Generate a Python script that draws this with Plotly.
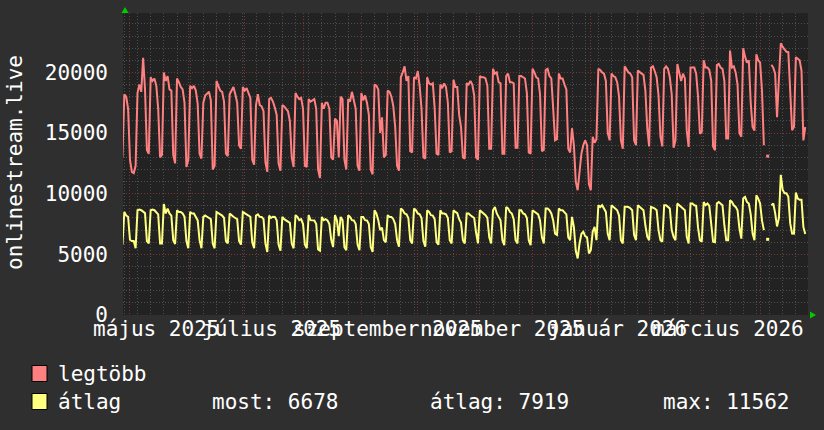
import math
import pandas as pd
import plotly.graph_objects as go

nan = float("nan")

# ---------------- data (daily values) ----------------
START_DATE = "2025-04-27"

legtobb = [
    13000,
    18200, 18000, 17000, 12800, 11800, 11700, 12300,
    18300, 19000, 18400, 21200, 18600, 13600, 13300,
    19600, 19300, 19500, 18900, 17000, 13000, 13200,
    20000, 19300, 19700, 18600, 18500, 13200, 12500,
    19500, 19200, 18800, 18600, 17500, 12200, 12800,
    18900, 18700, 18900, 18500, 17400, 13300, 12900,
    17500, 18100, 18300, 18400, 17700, 12000, 12300,
    19300, 18900, 18500, 18400, 17600, 13300, 13100,
    18200, 18500, 18800, 18200, 17500, 14000, 13700,
    18800, 18500, 18700, 18300, 17900, 12800, 12400,
    17300, 18200, 17300, 17200, 16800, 12600, 11800,
    17800, 17900, 17600, 17100, 16500, 12500, 11900,
    17300, 17200, 17000, 16800, 16000, 13000, 12200,
    18300, 18000, 17800, 17900, 17000, 12300, 12200,
    17800, 17600, 17700, 17800, 17000, 12000, 11300,
    17500, 17000, 17500, 17500, 17000, 13000, 12800,
    16200, 16000, 13000, 18000, 17800, 12800, 12000,
    17800, 17600, 18400, 17700, 17000, 12300, 11900,
    18300, 17700, 18100, 17500, 16500, 12000, 11600,
    19000, 18900, 18600, 15000, 16300, 13000, 13200,
    18500, 18400, 18000, 17200, 15500, 12300, 11900,
    19600, 20000, 20500, 19300, 19700, 13500, 13400,
    19600, 19500, 20100, 18900, 17000, 13000, 12900,
    19600, 19100, 19000, 19100, 17000, 13300, 13200,
    19000, 18700, 19100, 18800, 17500, 13400, 13500,
    19400, 18800, 18800, 16500, 15500, 13000, 12900,
    19100, 19000, 19300, 19000, 18100, 13000, 12800,
    19700, 19600, 19600, 19500, 18900, 13700, 13700,
    20300, 19900, 20000, 19200, 19100, 13300, 13300,
    19700, 19900, 19200, 19200, 19100, 13800, 13800,
    19700, 19700, 19600, 19500, 18300, 13400, 13300,
    20300, 20000, 19600, 19500, 18200, 13500, 13600,
    20200, 20300, 19700, 19500, 17000, 14400, 14500,
    19900, 19500, 19500, 19000, 18600, 13700, 13400,
    15400, 14000, 11000, 10290, 11800, 13300, 14000,
    14400, 14000, 10800, 10290, 14700, 14200, 14500,
    20300, 20200, 20000, 19900, 19300, 15000, 14400,
    19900, 19700, 19600, 19200, 18000, 14400, 13700,
    20500, 20200, 20000, 19900, 19600, 14400, 14000,
    20160, 20000, 19900, 19800, 18500, 15400, 13900,
    20400, 20500, 20100, 19600, 18100, 14700, 13900,
    20300, 20500, 20300, 19600, 18200, 13800, 14400,
    20700, 20000, 19300, 19900, 19500, 15200, 13860,
    20400, 20400, 20400, 19900, 18000, 14950, 15100,
    21000, 20400, 20400, 20200, 19300, 13900, 13580,
    20600, 20700, 20400, 20300, 19300, 14550, 14550,
    21800, 20400, 20500, 20000, 19000, 15000, 14700,
    22000, 21300, 20800, 21000, 17500, 15500, 15200,
    21500, 21000, 20800, 18500, 14000, nan, 13100,
    nan, 20630, 20400, 19900, 16300, 19500, 22400,
    22100, 21900, 21700, 21670, 18800, 15230, 15500,
    21260, 21130, 21000, 20160, 14400, 15500,
]

atlag = [
    5800,
    8500, 8200, 8100, 6200, 6100, 6100, 5500,
    8640, 8700, 8640, 8500, 8400, 6100, 5900,
    8640, 8700, 8640, 8500, 8300, 5900, 5900,
    9150, 8370, 8770, 8370, 8200, 6170, 5850,
    8640, 8500, 8500, 8370, 8100, 6100, 5500,
    8500, 8370, 8370, 8090, 7800, 6170, 5500,
    8090, 8200, 8100, 8000, 7900, 5900, 5500,
    8500, 8370, 8300, 8200, 8000, 6100, 5900,
    8370, 8200, 8100, 8000, 7900, 6100, 5800,
    8500, 8400, 8370, 8200, 8090, 6000, 5500,
    8200, 8300, 8100, 8090, 7900, 5900, 5200,
    8200, 8000, 8100, 8090, 7800, 5800, 5300,
    8090, 7900, 7800, 7700, 7600, 5900, 5500,
    8230, 8090, 7820, 7900, 7500, 5800, 5500,
    8230, 7820, 7820, 7800, 7500, 5400, 5300,
    8090, 7820, 7900, 7800, 7500, 6200, 5600,
    8230, 7820, 6500, 8090, 7820, 5600, 5350,
    8230, 8090, 7820, 7800, 7500, 5800, 5350,
    8090, 8090, 7820, 7800, 7500, 5600, 5200,
    8640, 8370, 7820, 7000, 7200, 6170, 6000,
    8230, 8090, 8090, 7900, 7500, 6170, 5625,
    8780, 8640, 8370, 8300, 8000, 6170, 5900,
    8780, 8640, 8370, 8300, 8000, 6100, 5625,
    8640, 8500, 8230, 8200, 7900, 6000, 5800,
    8640, 8370, 8370, 8300, 8000, 6170, 5900,
    8640, 8500, 8400, 7900, 7600, 6170, 5900,
    8370, 8370, 8230, 8090, 8000, 6800, 5900,
    8640, 8500, 8370, 8230, 8000, 6400, 5900,
    8640, 8900, 8370, 8090, 7800, 6170, 5750,
    8900, 8780, 8500, 8370, 7900, 6170, 5900,
    8640, 8640, 8370, 8300, 8000, 6170, 5750,
    8640, 8500, 8370, 8300, 7800, 6400, 5900,
    8780, 8780, 8640, 8370, 7800, 6700, 6600,
    8780, 8640, 8640, 8500, 8300, 6400, 6170,
    8090, 7260, 5300, 4660, 5900, 6700, 6860,
    6500, 6400, 5080, 5350, 6860, 7260, 6170,
    9050, 8900, 9050, 8780, 8500, 6700, 6170,
    9050, 8900, 8780, 8640, 8200, 6170, 5900,
    8915, 8915, 8900, 8800, 8640, 6600, 6170,
    9050, 8915, 8800, 8640, 7400, 6450, 6170,
    8915, 8850, 8780, 8640, 7000, 6170, 6040,
    9050, 9050, 8915, 8780, 7000, 6450, 6170,
    9190, 9050, 8915, 8800, 8640, 6450, 5900,
    9190, 9190, 9050, 9000, 7200, 6170, 6040,
    9320, 9050, 9190, 9000, 7400, 6040, 6000,
    9190, 9320, 9190, 9050, 7400, 6170, 6170,
    9460, 9320, 9050, 8915, 8640, 7150, 6300,
    9600, 9740, 9320, 9190, 8300, 6720, 6170,
    9875, 9600, 9190, 7800, 7000, nan, 6240,
    nan, 9050, 9190, 8400, 7300, 8000, 11562,
    10310, 10040, 10040, 9740, 7550, 6720, 6700,
    10100, 9600, 9500, 9500, 7260, 6678,
]

x_label_texts = ["május 2025", "július 2025", "szeptember 2025",
                 "november 2025", "január 2026", "március 2026"]
x_label_months = ["2025-05-01", "2025-07-01", "2025-09-01",
                  "2025-11-01", "2026-01-01", "2026-03-01"]
y_title = "onlinestream.live"
series_names = ["legtöbb", "átlag"]
stat_names = ["most:", "átlag:", "max:"]
stat_values = [6678, 7919, 11562]

# ---------------- styling ----------------
W, H = 824, 430
PL, PR, PT, PB = 123, 808, 13, 315      # plot area in pixels
FONT = "DejaVu Sans Mono"
RED = "#ff8080"
YEL = "#ffff80"
BG = "#2f2f2f"
PLOT_BG = "#222222"
MAJOR_GRID = "#7a3535"
MINOR_GRID = "#4e4e4e"
Y_MAX = 24900

def px_x(px):
    return (px - PL) / (PR - PL)

def px_y(py):
    return (PB - py) / (PB - PT)

dates = pd.date_range(START_DATE, periods=len(legtobb), freq="D")

fig = go.Figure()
for name, vals, col in [(series_names[0], legtobb, RED), (series_names[1], atlag, YEL)]:
    fig.add_trace(go.Scatter(x=dates, y=vals, mode="lines", name=name,
                             line=dict(color=col, width=2), connectgaps=False,
                             showlegend=False, hoverinfo="skip"))
    # isolated values (gaps on both sides) drawn as small dots
    iso_x, iso_y = [], []
    for i, v in enumerate(vals):
        if math.isnan(v):
            continue
        prev_nan = i > 0 and math.isnan(vals[i - 1])
        next_nan = i < len(vals) - 1 and math.isnan(vals[i + 1])
        if prev_nan and next_nan:
            iso_x.append(dates[i]); iso_y.append(v)
    if iso_x:
        fig.add_trace(go.Scatter(x=iso_x, y=iso_y, mode="markers",
                                 marker=dict(color=col, size=3, symbol="square", line=dict(width=0)),
                                 showlegend=False, hoverinfo="skip"))

range_start = pd.Timestamp("2025-04-27 07:00")
range_end = pd.Timestamp("2026-04-26 11:00")

fig.update_layout(
    width=W, height=H,
    margin=dict(l=PL, r=W - PR, t=PT, b=H - PB, pad=0),
    paper_bgcolor=BG, plot_bgcolor=PLOT_BG,
    font=dict(family=FONT, size=21, color="#ffffff"),
    showlegend=False,
    xaxis=dict(
        type="date", range=[range_start, range_end],
        showticklabels=False, ticks="", showline=False, zeroline=False,
        showgrid=True, gridcolor=MAJOR_GRID, griddash="1px,2px", gridwidth=1,
        tick0="2025-05-01", dtick="M1",
        minor=dict(showgrid=True, gridcolor=MINOR_GRID, griddash="1px,2px",
                   gridwidth=1, tick0="2025-04-28", dtick=7 * 86400000),
    ),
    yaxis=dict(
        range=[0, Y_MAX], tick0=0, dtick=5000, ticks="", showline=False,
        zeroline=False, showgrid=True, gridcolor=MAJOR_GRID,
        griddash="1px,2px", gridwidth=1, tickformat="d",
        tickfont=dict(family=FONT, size=21, color="#ffffff"),
        ticklabelstandoff=14,
        minor=dict(showgrid=True, gridcolor=MINOR_GRID, griddash="1px,2px",
                   gridwidth=1, tick0=0, dtick=1000),
    ),
)

annotations = []
# x-axis month labels, centred on the middle of the month
for txt, m in zip(x_label_texts, x_label_months):
    annotations.append(dict(
        x=pd.Timestamp(m) + pd.Timedelta(days=14), xref="x",
        y=px_y(329), yref="paper", text=txt, showarrow=False,
        xanchor="center", yanchor="middle",
        font=dict(family=FONT, size=21, color="#ffffff")))

# y-axis title
annotations.append(dict(
    x=px_x(15), y=px_y(163), xref="paper", yref="paper", text=y_title,
    textangle=-90, showarrow=False, xanchor="center", yanchor="middle",
    font=dict(family=FONT, size=21, color="#ffffff")))

# legend
rows_y = [373.5, 401.5]
for name, col, ry in zip(series_names, [RED, YEL], rows_y):
    annotations.append(dict(
        x=px_x(56), y=px_y(ry), xref="paper", yref="paper", text=name,
        showarrow=False, xanchor="left", yanchor="middle",
        font=dict(family=FONT, size=21, color="#ffffff")))
stat_x = [210, 428, 661]
for sx, sn, sv in zip(stat_x, stat_names, stat_values):
    annotations.append(dict(
        x=px_x(sx), y=px_y(rows_y[1]), xref="paper", yref="paper",
        text=f"{sn} {sv}", showarrow=False, xanchor="left", yanchor="middle",
        font=dict(family=FONT, size=21, color="#ffffff")))
fig.update_layout(annotations=annotations)

shapes = []
for col, ry in zip([RED, YEL], rows_y):
    shapes.append(dict(type="rect", xref="paper", yref="paper",
                       x0=px_x(32), x1=px_x(47), y0=px_y(ry - 8), y1=px_y(ry + 8),
                       fillcolor=col, line=dict(color="#000000", width=1), layer="above"))
# green axis arrows
ax = PL + 2
shapes.append(dict(type="path", xref="paper", yref="paper",
                   path=f"M {px_x(ax-3.5)},{px_y(13)} L {px_x(ax+3.5)},{px_y(13)} L {px_x(ax)},{px_y(7)} Z",
                   fillcolor="#00cc00", line=dict(width=0), layer="above"))
shapes.append(dict(type="path", xref="paper", yref="paper",
                   path=f"M {px_x(810)},{px_y(PB-3.5)} L {px_x(810)},{px_y(PB+3.5)} L {px_x(816)},{px_y(PB)} Z",
                   fillcolor="#00cc00", line=dict(width=0), layer="above"))
fig.update_layout(shapes=shapes)

fig.write_html("out.html",
               config={"displayModeBar": False, "staticPlot": True},
               post_script="document.body.style.margin='0';document.body.style.overflow='hidden';")
